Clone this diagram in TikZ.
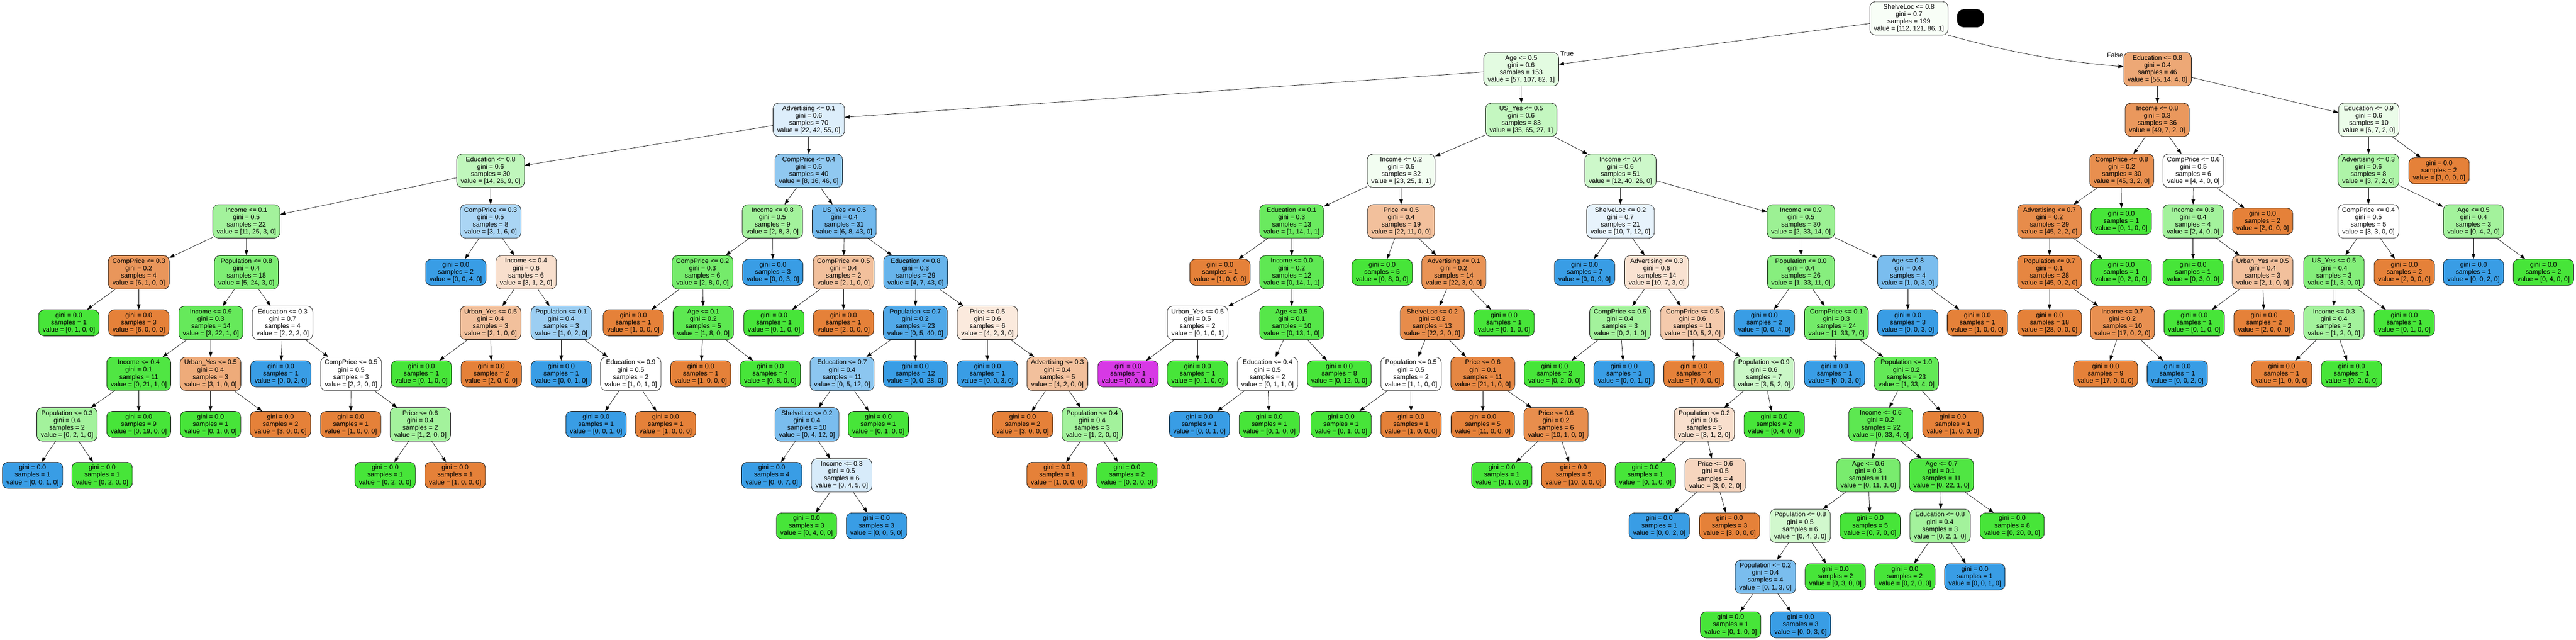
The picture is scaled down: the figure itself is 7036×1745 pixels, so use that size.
\documentclass[tikz,border=0pt]{standalone}
\usepackage{fontspec}
\setmainfont{Liberation Sans}
\usepackage{tikz}
\usetikzlibrary{arrows.meta}
\definecolor{cOr}{HTML}{E58139}
\definecolor{cGr}{HTML}{47E539}
\definecolor{cBl}{HTML}{399DE5}
\definecolor{cMa}{HTML}{D739E5}
\tikzset{dnode/.style={draw, line width=0.55pt, rounded corners=0.3cm, align=center, inner xsep=0.22cm, inner ysep=0.15cm, font=\fontsize{10.2}{11.3}\selectfont}}
\tikzset{ora/.style={dnode, fill=cOr!#1!white}}
\tikzset{gre/.style={dnode, fill=cGr!#1!white}}
\tikzset{blu/.style={dnode, fill=cBl!#1!white}}
\tikzset{mag/.style={dnode, fill=cMa!#1!white}}
\tikzset{ora/.default=100}
\tikzset{gre/.default=100}
\tikzset{blu/.default=100}
\tikzset{mag/.default=100}
\tikzset{arc/.style={-{Triangle[length=0.28cm, width=0.2cm]}, line width=0.55pt}}
\tikzset{tflabel/.style={font=\fontsize{10.2}{11.3}\selectfont, inner sep=0pt}}

\begin{document}
\begin{tikzpicture}
[x=0.02cm, y=-0.02cm]
\useasboundingbox (0,0) rectangle (7036,1745);
% level 0 and 1
\node (n0) at (5214,50)[gre=4]{ShelveLoc <= 0.8\\gini = 0.7\\samples = 199\\value = [112, 121, 86, 1]};
\node (blk) at (5382,50)[fill=black, rounded corners=0.36cm, minimum width=1.46cm, minimum height=0.98cm]{};
\node (lT) at (4280,147)[tflabel]{True};
\node (lF) at (5777,151)[tflabel]{False};
\node (n1) at (4155,189)[gre=15]{Age <= 0.5\\gini = 0.6\\samples = 153\\value = [57, 107, 82, 1]};
\node (n130) at (5893,189)[ora=69]{Education <= 0.8\\gini = 0.4\\samples = 46\\value = [55, 14, 4, 0]};
% level 2
\node (n2) at (2209,327)[blu=17]{Advertising <= 0.1\\gini = 0.6\\samples = 70\\value = [22, 42, 55, 0]};
\node (n65) at (4155,327)[gre=32]{US\_Yes <= 0.5\\gini = 0.6\\samples = 83\\value = [35, 65, 27, 1]};
\node (n131) at (5892,327)[ora=82]{Income <= 0.8\\gini = 0.3\\samples = 36\\value = [49, 7, 2, 0]};
\node (n148) at (6470,327)[gre=11]{Education <= 0.9\\gini = 0.6\\samples = 10\\value = [6, 7, 2, 0]};
% level 3
\node (n3) at (1340,466)[gre=34]{Education <= 0.8\\gini = 0.6\\samples = 30\\value = [14, 26, 9, 0]};
\node (n36) at (2209,466)[blu=56]{CompPrice <= 0.4\\gini = 0.5\\samples = 40\\value = [8, 16, 46, 0]};
\node (n66) at (3827,466)[gre=7]{Income <= 0.2\\gini = 0.5\\samples = 32\\value = [23, 25, 1, 1]};
\node (n91) at (4426,466)[gre=27]{Income <= 0.4\\gini = 0.6\\samples = 51\\value = [12, 40, 26, 0]};
\node (n132) at (5795,466)[ora=89]{CompPrice <= 0.8\\gini = 0.2\\samples = 30\\value = [45, 3, 2, 0]};
\node (n141) at (5991,466)[gre=0]{CompPrice <= 0.6\\gini = 0.5\\samples = 6\\value = [4, 4, 0, 0]};
\node (n149) at (6469,466)[gre=44]{Advertising <= 0.3\\gini = 0.6\\samples = 8\\value = [3, 7, 2, 0]};
\node (n160) at (6662,466)[ora]{gini = 0.0\\samples = 2\\value = [3, 0, 0, 0]};
% level 4
\node (n4) at (673,604)[gre=50]{Income <= 0.1\\gini = 0.5\\samples = 22\\value = [11, 25, 3, 0]};
\node (n25) at (1340,604)[blu=43]{CompPrice <= 0.3\\gini = 0.5\\samples = 8\\value = [3, 1, 6, 0]};
\node (n37) at (2110,604)[gre=50]{Income <= 0.8\\gini = 0.5\\samples = 9\\value = [2, 8, 3, 0]};
\node (n44) at (2306,604)[blu=71]{US\_Yes <= 0.5\\gini = 0.4\\samples = 31\\value = [6, 8, 43, 0]};
\node (n67) at (3528,604)[gre=81]{Education <= 0.1\\gini = 0.3\\samples = 13\\value = [1, 14, 1, 1]};
\node (n78) at (3827,604)[ora=50]{Price <= 0.5\\gini = 0.4\\samples = 19\\value = [22, 11, 0, 0]};
\node (n92) at (4426,604)[blu=12]{ShelveLoc <= 0.2\\gini = 0.7\\samples = 21\\value = [10, 7, 12, 0]};
\node (n107) at (4919,604)[gre=54]{Income <= 0.9\\gini = 0.5\\samples = 30\\value = [2, 33, 14, 0]};
\node (n133) at (5598,604)[ora=91]{Advertising <= 0.7\\gini = 0.2\\samples = 29\\value = [45, 2, 2, 0]};
\node (n140) at (5794,604)[gre]{gini = 0.0\\samples = 1\\value = [0, 1, 0, 0]};
\node (n142) at (5990,604)[gre=50]{Income <= 0.8\\gini = 0.4\\samples = 4\\value = [2, 4, 0, 0]};
\node (n147) at (6180,604)[ora]{gini = 0.0\\samples = 2\\value = [2, 0, 0, 0]};
\node (n150) at (6469,604)[gre=0]{CompPrice <= 0.4\\gini = 0.5\\samples = 5\\value = [3, 3, 0, 0]};
\node (n157) at (6756,604)[gre=50]{Age <= 0.5\\gini = 0.4\\samples = 3\\value = [0, 4, 2, 0]};
% level 5
\node (n5) at (379,743)[ora=83]{CompPrice <= 0.3\\gini = 0.2\\samples = 4\\value = [6, 1, 0, 0]};
\node (n8) at (673,743)[gre=70]{Population <= 0.8\\gini = 0.4\\samples = 18\\value = [5, 24, 3, 0]};
\node (n26) at (1245,743)[blu]{gini = 0.0\\samples = 2\\value = [0, 0, 4, 0]};
\node (n27) at (1437,743)[ora=25]{Income <= 0.4\\gini = 0.6\\samples = 6\\value = [3, 1, 2, 0]};
\node (n38) at (1919,743)[gre=75]{CompPrice <= 0.2\\gini = 0.3\\samples = 6\\value = [2, 8, 0, 0]};
\node (n43) at (2111,743)[blu]{gini = 0.0\\samples = 3\\value = [0, 0, 3, 0]};
\node (n45) at (2304,743)[ora=50]{CompPrice <= 0.5\\gini = 0.4\\samples = 2\\value = [2, 1, 0, 0]};
\node (n48) at (2501,743)[blu=77]{Education <= 0.8\\gini = 0.3\\samples = 29\\value = [4, 7, 43, 0]};
\node (n68) at (3332,743)[ora]{gini = 0.0\\samples = 1\\value = [1, 0, 0, 0]};
\node (n69) at (3528,743)[gre=87]{Income <= 0.0\\gini = 0.2\\samples = 12\\value = [0, 14, 1, 1]};
\node (n79) at (3775,743)[gre]{gini = 0.0\\samples = 5\\value = [0, 8, 0, 0]};
\node (n80) at (3971,743)[ora=86]{Advertising <= 0.1\\gini = 0.2\\samples = 14\\value = [22, 3, 0, 0]};
\node (n93) at (4328,743)[blu]{gini = 0.0\\samples = 7\\value = [0, 0, 9, 0]};
\node (n94) at (4525,743)[ora=23]{Advertising <= 0.3\\gini = 0.6\\samples = 14\\value = [10, 7, 3, 0]};
\node (n108) at (4919,743)[gre=65]{Population <= 0.0\\gini = 0.4\\samples = 26\\value = [1, 33, 11, 0]};
\node (n127) at (5211,743)[blu=67]{Age <= 0.8\\gini = 0.4\\samples = 4\\value = [1, 0, 3, 0]};
\node (n134) at (5598,743)[ora=96]{Population <= 0.7\\gini = 0.1\\samples = 28\\value = [45, 0, 2, 0]};
\node (n139) at (5794,743)[gre]{gini = 0.0\\samples = 1\\value = [0, 2, 0, 0]};
\node (n143) at (5990,743)[gre]{gini = 0.0\\samples = 1\\value = [0, 3, 0, 0]};
\node (n144) at (6180,743)[ora=50]{Urban\_Yes <= 0.5\\gini = 0.4\\samples = 3\\value = [2, 1, 0, 0]};
\node (n151) at (6375,743)[gre=67]{US\_Yes <= 0.5\\gini = 0.4\\samples = 3\\value = [1, 3, 0, 0]};
\node (n156) at (6567,743)[ora]{gini = 0.0\\samples = 2\\value = [2, 0, 0, 0]};
\node (n158) at (6756,743)[blu]{gini = 0.0\\samples = 1\\value = [0, 0, 2, 0]};
\node (n159) at (6947,743)[gre]{gini = 0.0\\samples = 2\\value = [0, 4, 0, 0]};
% level 6
\node (n6) at (188,881)[gre]{gini = 0.0\\samples = 1\\value = [0, 1, 0, 0]};
\node (n7) at (379,881)[ora]{gini = 0.0\\samples = 3\\value = [6, 0, 0, 0]};
\node (n9) at (576,881)[gre=83]{Income <= 0.9\\gini = 0.3\\samples = 14\\value = [3, 22, 1, 0]};
\node (n18) at (772,881)[gre=0]{Education <= 0.3\\gini = 0.7\\samples = 4\\value = [2, 2, 2, 0]};
\node (n28) at (1340,881)[ora=50]{Urban\_Yes <= 0.5\\gini = 0.4\\samples = 3\\value = [2, 1, 0, 0]};
\node (n31) at (1533,881)[blu=50]{Population <= 0.1\\gini = 0.4\\samples = 3\\value = [1, 0, 2, 0]};
\node (n39) at (1730,881)[ora]{gini = 0.0\\samples = 1\\value = [1, 0, 0, 0]};
\node (n40) at (1921,881)[gre=88]{Age <= 0.1\\gini = 0.2\\samples = 5\\value = [1, 8, 0, 0]};
\node (n46) at (2114,881)[gre]{gini = 0.0\\samples = 1\\value = [0, 1, 0, 0]};
\node (n47) at (2304,881)[ora]{gini = 0.0\\samples = 1\\value = [2, 0, 0, 0]};
\node (n49) at (2500,881)[blu=88]{Population <= 0.7\\gini = 0.2\\samples = 23\\value = [0, 5, 40, 0]};
\node (n58) at (2697,881)[ora=17]{Price <= 0.5\\gini = 0.6\\samples = 6\\value = [4, 2, 3, 0]};
\node (n70) at (3271,881)[gre=0]{Urban\_Yes <= 0.5\\gini = 0.5\\samples = 2\\value = [0, 1, 0, 1]};
\node (n73) at (3528,881)[gre=92]{Age <= 0.5\\gini = 0.1\\samples = 10\\value = [0, 13, 1, 0]};
\node (n81) at (3912,881)[ora=91]{ShelveLoc <= 0.2\\gini = 0.2\\samples = 13\\value = [22, 2, 0, 0]};
\node (n90) at (4108,881)[gre]{gini = 0.0\\samples = 1\\value = [0, 1, 0, 0]};
\node (n95) at (4425,881)[gre=50]{CompPrice <= 0.5\\gini = 0.4\\samples = 3\\value = [0, 2, 1, 0]};
\node (n98) at (4623,881)[ora=42]{CompPrice <= 0.5\\gini = 0.6\\samples = 11\\value = [10, 5, 2, 0]};
\node (n109) at (4819,881)[blu]{gini = 0.0\\samples = 2\\value = [0, 0, 4, 0]};
\node (n110) at (5016,881)[gre=76]{CompPrice <= 0.1\\gini = 0.3\\samples = 24\\value = [1, 33, 7, 0]};
\node (n128) at (5211,881)[blu]{gini = 0.0\\samples = 3\\value = [0, 0, 3, 0]};
\node (n129) at (5401,881)[ora]{gini = 0.0\\samples = 1\\value = [1, 0, 0, 0]};
\node (n135) at (5598,881)[ora]{gini = 0.0\\samples = 18\\value = [28, 0, 0, 0]};
\node (n136) at (5797,881)[ora=88]{Income <= 0.7\\gini = 0.2\\samples = 10\\value = [17, 0, 2, 0]};
\node (n145) at (5993,881)[gre]{gini = 0.0\\samples = 1\\value = [0, 1, 0, 0]};
\node (n146) at (6184,881)[ora]{gini = 0.0\\samples = 2\\value = [2, 0, 0, 0]};
\node (n152) at (6375,881)[gre=50]{Income <= 0.3\\gini = 0.4\\samples = 2\\value = [1, 2, 0, 0]};
\node (n155) at (6567,881)[gre]{gini = 0.0\\samples = 1\\value = [0, 1, 0, 0]};
% level 7
\node (n10) at (379,1020)[gre=95]{Income <= 0.4\\gini = 0.1\\samples = 11\\value = [0, 21, 1, 0]};
\node (n15) at (575,1020)[ora=67]{Urban\_Yes <= 0.5\\gini = 0.4\\samples = 3\\value = [3, 1, 0, 0]};
\node (n19) at (767,1020)[blu]{gini = 0.0\\samples = 1\\value = [0, 0, 2, 0]};
\node (n20) at (959,1020)[gre=0]{CompPrice <= 0.5\\gini = 0.5\\samples = 3\\value = [2, 2, 0, 0]};
\node (n29) at (1151,1020)[gre]{gini = 0.0\\samples = 1\\value = [0, 1, 0, 0]};
\node (n30) at (1342,1020)[ora]{gini = 0.0\\samples = 2\\value = [2, 0, 0, 0]};
\node (n32) at (1533,1020)[blu]{gini = 0.0\\samples = 1\\value = [0, 0, 1, 0]};
\node (n33) at (1723,1020)[gre=0]{Education <= 0.9\\gini = 0.5\\samples = 2\\value = [1, 0, 1, 0]};
\node (n41) at (1914,1020)[ora]{gini = 0.0\\samples = 1\\value = [1, 0, 0, 0]};
\node (n42) at (2104,1020)[gre]{gini = 0.0\\samples = 4\\value = [0, 8, 0, 0]};
\node (n50) at (2300,1020)[blu=58]{Education <= 0.7\\gini = 0.4\\samples = 11\\value = [0, 5, 12, 0]};
\node (n57) at (2500,1020)[blu]{gini = 0.0\\samples = 12\\value = [0, 0, 28, 0]};
\node (n59) at (2697,1020)[blu]{gini = 0.0\\samples = 1\\value = [0, 0, 3, 0]};
\node (n60) at (2888,1020)[ora=50]{Advertising <= 0.3\\gini = 0.4\\samples = 5\\value = [4, 2, 0, 0]};
\node (n71) at (3081,1020)[mag]{gini = 0.0\\samples = 1\\value = [0, 0, 0, 1]};
\node (n72) at (3271,1020)[gre]{gini = 0.0\\samples = 1\\value = [0, 1, 0, 0]};
\node (n74) at (3462,1020)[gre=0]{Education <= 0.4\\gini = 0.5\\samples = 2\\value = [0, 1, 1, 0]};
\node (n77) at (3658,1020)[gre]{gini = 0.0\\samples = 8\\value = [0, 12, 0, 0]};
\node (n82) at (3854,1020)[gre=0]{Population <= 0.5\\gini = 0.5\\samples = 2\\value = [1, 1, 0, 0]};
\node (n85) at (4050,1020)[ora=95]{Price <= 0.6\\gini = 0.1\\samples = 11\\value = [21, 1, 0, 0]};
\node (n96) at (4246,1020)[gre]{gini = 0.0\\samples = 2\\value = [0, 2, 0, 0]};
\node (n97) at (4436,1020)[blu]{gini = 0.0\\samples = 1\\value = [0, 0, 1, 0]};
\node (n99) at (4627,1020)[ora]{gini = 0.0\\samples = 4\\value = [7, 0, 0, 0]};
\node (n100) at (4818,1020)[gre=29]{Population <= 0.9\\gini = 0.6\\samples = 7\\value = [3, 5, 2, 0]};
\node (n111) at (5011,1020)[blu]{gini = 0.0\\samples = 1\\value = [0, 0, 3, 0]};
\node (n112) at (5207,1020)[gre=85]{Population <= 1.0\\gini = 0.2\\samples = 23\\value = [1, 33, 4, 0]};
\node (n137) at (5751,1020)[ora]{gini = 0.0\\samples = 9\\value = [17, 0, 0, 0]};
\node (n138) at (5947,1020)[blu]{gini = 0.0\\samples = 1\\value = [0, 0, 2, 0]};
\node (n153) at (6232,1020)[ora]{gini = 0.0\\samples = 1\\value = [1, 0, 0, 0]};
\node (n154) at (6423,1020)[gre]{gini = 0.0\\samples = 1\\value = [0, 2, 0, 0]};
% level 8
\node (n11) at (183,1158)[gre=50]{Population <= 0.3\\gini = 0.4\\samples = 2\\value = [0, 2, 1, 0]};
\node (n14) at (379,1158)[gre]{gini = 0.0\\samples = 9\\value = [0, 19, 0, 0]};
\node (n16) at (575,1158)[gre]{gini = 0.0\\samples = 1\\value = [0, 1, 0, 0]};
\node (n17) at (766,1158)[ora]{gini = 0.0\\samples = 2\\value = [3, 0, 0, 0]};
\node (n21) at (958,1158)[ora]{gini = 0.0\\samples = 1\\value = [1, 0, 0, 0]};
\node (n22) at (1148,1158)[gre=50]{Price <= 0.6\\gini = 0.4\\samples = 2\\value = [1, 2, 0, 0]};
\node (n34) at (1628,1158)[blu]{gini = 0.0\\samples = 1\\value = [0, 0, 1, 0]};
\node (n35) at (1818,1158)[ora]{gini = 0.0\\samples = 1\\value = [1, 0, 0, 0]};
\node (n51) at (2204,1158)[blu=67]{ShelveLoc <= 0.2\\gini = 0.4\\samples = 10\\value = [0, 4, 12, 0]};
\node (n56) at (2399,1158)[gre]{gini = 0.0\\samples = 1\\value = [0, 1, 0, 0]};
\node (n61) at (2793,1158)[ora]{gini = 0.0\\samples = 2\\value = [3, 0, 0, 0]};
\node (n62) at (2983,1158)[gre=50]{Population <= 0.4\\gini = 0.4\\samples = 3\\value = [1, 2, 0, 0]};
\node (n75) at (3276,1158)[blu]{gini = 0.0\\samples = 1\\value = [0, 0, 1, 0]};
\node (n76) at (3467,1158)[gre]{gini = 0.0\\samples = 1\\value = [0, 1, 0, 0]};
\node (n83) at (3663,1158)[gre]{gini = 0.0\\samples = 1\\value = [0, 1, 0, 0]};
\node (n84) at (3854,1158)[ora]{gini = 0.0\\samples = 1\\value = [1, 0, 0, 0]};
\node (n86) at (4050,1158)[ora]{gini = 0.0\\samples = 5\\value = [11, 0, 0, 0]};
\node (n87) at (4250,1158)[ora=90]{Price <= 0.6\\gini = 0.2\\samples = 6\\value = [10, 1, 0, 0]};
\node (n101) at (4655,1158)[ora=25]{Population <= 0.2\\gini = 0.6\\samples = 5\\value = [3, 1, 2, 0]};
\node (n106) at (4846,1158)[gre]{gini = 0.0\\samples = 2\\value = [0, 4, 0, 0]};
\node (n113) at (5137,1158)[gre=88]{Income <= 0.6\\gini = 0.2\\samples = 22\\value = [0, 33, 4, 0]};
\node (n126) at (5334,1158)[ora]{gini = 0.0\\samples = 1\\value = [1, 0, 0, 0]};
% level 9
\node (n12) at (89,1297)[blu]{gini = 0.0\\samples = 1\\value = [0, 0, 1, 0]};
\node (n13) at (279,1297)[gre]{gini = 0.0\\samples = 1\\value = [0, 2, 0, 0]};
\node (n23) at (1052,1297)[gre]{gini = 0.0\\samples = 1\\value = [0, 2, 0, 0]};
\node (n24) at (1243,1297)[ora]{gini = 0.0\\samples = 1\\value = [1, 0, 0, 0]};
\node (n52) at (2108,1297)[blu]{gini = 0.0\\samples = 4\\value = [0, 0, 7, 0]};
\node (n53) at (2299,1297)[blu=20]{Income <= 0.3\\gini = 0.5\\samples = 6\\value = [0, 4, 5, 0]};
\node (n63) at (2887,1297)[ora]{gini = 0.0\\samples = 1\\value = [1, 0, 0, 0]};
\node (n64) at (3078,1297)[gre]{gini = 0.0\\samples = 2\\value = [0, 2, 0, 0]};
\node (n88) at (4102,1297)[gre]{gini = 0.0\\samples = 1\\value = [0, 1, 0, 0]};
\node (n89) at (4298,1297)[ora]{gini = 0.0\\samples = 5\\value = [10, 0, 0, 0]};
\node (n102) at (4494,1297)[gre]{gini = 0.0\\samples = 1\\value = [0, 1, 0, 0]};
\node (n103) at (4685,1297)[ora=33]{Price <= 0.6\\gini = 0.5\\samples = 4\\value = [3, 0, 2, 0]};
\node (n114) at (5103,1297)[gre=73]{Age <= 0.6\\gini = 0.3\\samples = 11\\value = [0, 11, 3, 0]};
\node (n121) at (5303,1297)[gre=95]{Age <= 0.7\\gini = 0.1\\samples = 11\\value = [0, 22, 1, 0]};
% level 10
\node (n54) at (2203,1435)[gre]{gini = 0.0\\samples = 3\\value = [0, 4, 0, 0]};
\node (n55) at (2394,1435)[blu]{gini = 0.0\\samples = 3\\value = [0, 0, 5, 0]};
\node (n104) at (4532,1435)[blu]{gini = 0.0\\samples = 1\\value = [0, 0, 2, 0]};
\node (n105) at (4724,1435)[ora]{gini = 0.0\\samples = 3\\value = [3, 0, 0, 0]};
\node (n115) at (4917,1435)[gre=25]{Population <= 0.8\\gini = 0.5\\samples = 6\\value = [0, 4, 3, 0]};
\node (n120) at (5108,1435)[gre]{gini = 0.0\\samples = 5\\value = [0, 7, 0, 0]};
\node (n122) at (5299,1435)[gre=50]{Education <= 0.8\\gini = 0.4\\samples = 3\\value = [0, 2, 1, 0]};
\node (n125) at (5496,1435)[gre]{gini = 0.0\\samples = 8\\value = [0, 20, 0, 0]};
% level 11 and 12
\node (n116) at (4822,1574)[blu=67]{Population <= 0.2\\gini = 0.4\\samples = 4\\value = [0, 1, 3, 0]};
\node (n119) at (5013,1574)[gre]{gini = 0.0\\samples = 2\\value = [0, 3, 0, 0]};
\node (n123) at (5203,1574)[gre]{gini = 0.0\\samples = 2\\value = [0, 2, 0, 0]};
\node (n124) at (5394,1574)[blu]{gini = 0.0\\samples = 1\\value = [0, 0, 1, 0]};
\node (n117) at (4727,1705)[gre]{gini = 0.0\\samples = 1\\value = [0, 1, 0, 0]};
\node (n118) at (4918,1705)[blu]{gini = 0.0\\samples = 3\\value = [0, 0, 3, 0]};
% edges
\draw[arc] (n0)--(n1);
\draw[arc] (n0.south east) to[bend right=5] (n130);
\draw[arc] (n1)--(n2); \draw[arc] (n1)--(n65);
\draw[arc] (n2)--(n3); \draw[arc] (n2)--(n36);
\draw[arc] (n3)--(n4); \draw[arc] (n3)--(n25);
\draw[arc] (n4)--(n5); \draw[arc] (n4)--(n8);
\draw[arc] (n5)--(n6); \draw[arc] (n5)--(n7);
\draw[arc] (n8)--(n9); \draw[arc] (n8)--(n18);
\draw[arc] (n9)--(n10); \draw[arc] (n9)--(n15);
\draw[arc] (n10)--(n11); \draw[arc] (n10)--(n14);
\draw[arc] (n11)--(n12); \draw[arc] (n11)--(n13);
\draw[arc] (n15)--(n16); \draw[arc] (n15)--(n17);
\draw[arc] (n18)--(n19); \draw[arc] (n18)--(n20);
\draw[arc] (n20)--(n21); \draw[arc] (n20)--(n22);
\draw[arc] (n22)--(n23); \draw[arc] (n22)--(n24);
\draw[arc] (n25)--(n26); \draw[arc] (n25)--(n27);
\draw[arc] (n27)--(n28); \draw[arc] (n27)--(n31);
\draw[arc] (n28)--(n29); \draw[arc] (n28)--(n30);
\draw[arc] (n31)--(n32); \draw[arc] (n31)--(n33);
\draw[arc] (n33)--(n34); \draw[arc] (n33)--(n35);
\draw[arc] (n36)--(n37); \draw[arc] (n36)--(n44);
\draw[arc] (n37)--(n38); \draw[arc] (n37)--(n43);
\draw[arc] (n38)--(n39); \draw[arc] (n38)--(n40);
\draw[arc] (n40)--(n41); \draw[arc] (n40)--(n42);
\draw[arc] (n44)--(n45); \draw[arc] (n44)--(n48);
\draw[arc] (n45)--(n46); \draw[arc] (n45)--(n47);
\draw[arc] (n48)--(n49); \draw[arc] (n48)--(n58);
\draw[arc] (n49)--(n50); \draw[arc] (n49)--(n57);
\draw[arc] (n50)--(n51); \draw[arc] (n50)--(n56);
\draw[arc] (n51)--(n52); \draw[arc] (n51)--(n53);
\draw[arc] (n53)--(n54); \draw[arc] (n53)--(n55);
\draw[arc] (n58)--(n59); \draw[arc] (n58)--(n60);
\draw[arc] (n60)--(n61); \draw[arc] (n60)--(n62);
\draw[arc] (n62)--(n63); \draw[arc] (n62)--(n64);
\draw[arc] (n65)--(n66); \draw[arc] (n65)--(n91);
\draw[arc] (n66)--(n67); \draw[arc] (n66)--(n78);
\draw[arc] (n67)--(n68); \draw[arc] (n67)--(n69);
\draw[arc] (n69)--(n70); \draw[arc] (n69)--(n73);
\draw[arc] (n70)--(n71); \draw[arc] (n70)--(n72);
\draw[arc] (n73)--(n74); \draw[arc] (n73)--(n77);
\draw[arc] (n74)--(n75); \draw[arc] (n74)--(n76);
\draw[arc] (n78)--(n79); \draw[arc] (n78)--(n80);
\draw[arc] (n80)--(n81); \draw[arc] (n80)--(n90);
\draw[arc] (n81)--(n82); \draw[arc] (n81)--(n85);
\draw[arc] (n82)--(n83); \draw[arc] (n82)--(n84);
\draw[arc] (n85)--(n86); \draw[arc] (n85)--(n87);
\draw[arc] (n87)--(n88); \draw[arc] (n87)--(n89);
\draw[arc] (n91)--(n92); \draw[arc] (n91)--(n107);
\draw[arc] (n92)--(n93); \draw[arc] (n92)--(n94);
\draw[arc] (n94)--(n95); \draw[arc] (n94)--(n98);
\draw[arc] (n95)--(n96); \draw[arc] (n95)--(n97);
\draw[arc] (n98)--(n99); \draw[arc] (n98)--(n100);
\draw[arc] (n100)--(n101); \draw[arc] (n100)--(n106);
\draw[arc] (n101)--(n102); \draw[arc] (n101)--(n103);
\draw[arc] (n103)--(n104); \draw[arc] (n103)--(n105);
\draw[arc] (n107)--(n108); \draw[arc] (n107)--(n127);
\draw[arc] (n108)--(n109); \draw[arc] (n108)--(n110);
\draw[arc] (n110)--(n111); \draw[arc] (n110)--(n112);
\draw[arc] (n112)--(n113); \draw[arc] (n112)--(n126);
\draw[arc] (n113)--(n114); \draw[arc] (n113)--(n121);
\draw[arc] (n114)--(n115); \draw[arc] (n114)--(n120);
\draw[arc] (n115)--(n116); \draw[arc] (n115)--(n119);
\draw[arc] (n116)--(n117); \draw[arc] (n116)--(n118);
\draw[arc] (n121)--(n122); \draw[arc] (n121)--(n125);
\draw[arc] (n122)--(n123); \draw[arc] (n122)--(n124);
\draw[arc] (n127)--(n128); \draw[arc] (n127)--(n129);
\draw[arc] (n130)--(n131); \draw[arc] (n130)--(n148);
\draw[arc] (n131)--(n132); \draw[arc] (n131)--(n141);
\draw[arc] (n132)--(n133); \draw[arc] (n132)--(n140);
\draw[arc] (n133)--(n134); \draw[arc] (n133)--(n139);
\draw[arc] (n134)--(n135); \draw[arc] (n134)--(n136);
\draw[arc] (n136)--(n137); \draw[arc] (n136)--(n138);
\draw[arc] (n141)--(n142); \draw[arc] (n141)--(n147);
\draw[arc] (n142)--(n143); \draw[arc] (n142)--(n144);
\draw[arc] (n144)--(n145); \draw[arc] (n144)--(n146);
\draw[arc] (n148)--(n149); \draw[arc] (n148)--(n160);
\draw[arc] (n149)--(n150); \draw[arc] (n149)--(n157);
\draw[arc] (n150)--(n151); \draw[arc] (n150)--(n156);
\draw[arc] (n151)--(n152); \draw[arc] (n151)--(n155);
\draw[arc] (n152)--(n153); \draw[arc] (n152)--(n154);
\draw[arc] (n157)--(n158); \draw[arc] (n157)--(n159);
\end{tikzpicture}
\end{document}
